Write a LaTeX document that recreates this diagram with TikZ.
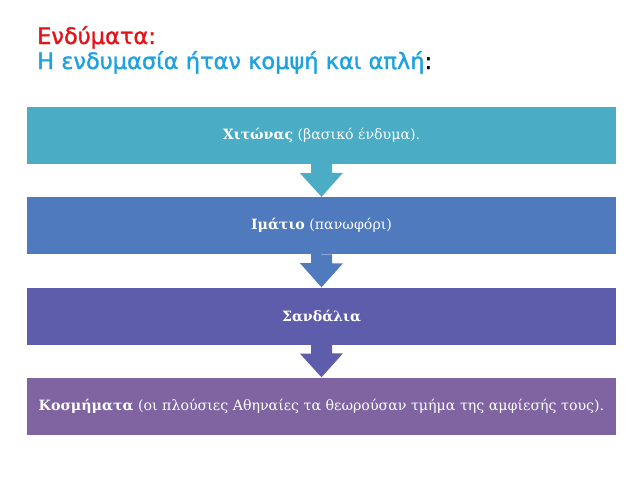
\documentclass[tikz,border=0pt]{standalone}
\usepackage{fontspec}
\setmainfont{DejaVu Serif}
\newfontfamily\titlefont[FakeBold=1.5]{DejaVu Sans}
\usetikzlibrary{calc}
\definecolor{tealbox}{RGB}{75,172,198}
\definecolor{bluebox}{RGB}{80,122,190}
\definecolor{indigobox}{RGB}{94,93,171}
\definecolor{purplebox}{RGB}{128,100,162}
\definecolor{titlered}{RGB}{226,20,26}
\definecolor{titleblue}{RGB}{30,162,222}
\tikzset{
  item/.style={minimum width=589pt, minimum height=57pt, inner sep=0pt,
    text=white, font=\fontsize{14.2}{17}\selectfont},
  title/.style={anchor=base west, inner sep=0pt, font=\titlefont\fontsize{22.5}{26}\selectfont}
}

\begin{document}
\begin{tikzpicture}[x=1pt,y=-1pt]
\useasboundingbox (0,0) rectangle (638,479);
 \node[title, text=titlered] (head) at (37,44) {Ενδύματα:};
 \node[title, text=titleblue] (sub) at (37,69) {Η ενδυμασία ήταν κομψή και απλή\textcolor{black}{:}};
 \node[item, fill=tealbox] (chiton) at (321.5,135.5) {\textbf{Χιτώνας} (βασικό ένδυμα).};
 \node[item, fill=bluebox] (himation) at (321.5,225.5) {\textbf{Ιμάτιο} (πανωφόρι)};
 \node[item, fill=indigobox] (sandals) at (321.5,316) {\textbf{Σανδάλια}};
 \node[item, fill=purplebox] (jewels) at (321.5,406) {\textbf{Κοσμήματα} (οι πλούσιες Αθηναίες τα θεωρούσαν τμήμα της αμφίεσής τους).};
% block arrows between the boxes
\fill[tealbox] ($(chiton.south)+(-10.5,0)$) -- ++(0,9) -- ++(-11,0) -- (himation.north) -- ++(21.5,-24) -- ++(-11,0) -- ++(0,-9) -- cycle;
\fill[bluebox] ($(himation.south)+(-10.5,0)$) -- ++(0,9) -- ++(-11,0) -- (sandals.north) -- ++(21.5,-24) -- ++(-11,0) -- ++(0,-9) -- cycle;
\fill[indigobox] ($(sandals.south)+(-10.5,0)$) -- ++(0,9) -- ++(-11,0) -- (jewels.north) -- ++(21.5,-24) -- ++(-11,0) -- ++(0,-9) -- cycle;
\end{tikzpicture}
\end{document}
